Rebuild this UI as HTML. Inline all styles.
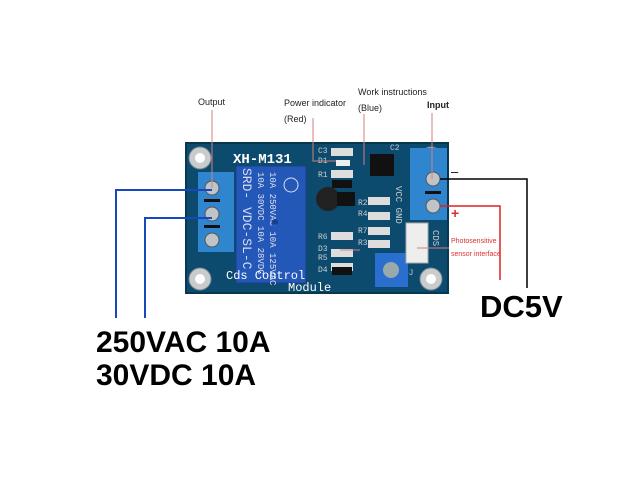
<!DOCTYPE html>
<html><head><style>
html,body{margin:0;padding:0;background:#fff;width:640px;height:480px;overflow:hidden}
svg{display:block}
</style></head><body>
<svg width="640" height="480" viewBox="0 0 640 480" font-family="Liberation Sans, sans-serif">
<rect width="640" height="480" fill="#fff"/>
<!-- board -->
<rect x="186" y="143" width="262" height="150" fill="#0c4a6e"/>
<rect x="186" y="143" width="262" height="150" fill="none" stroke="#083850" stroke-width="2"/>
<!-- holes -->
<g fill="#c9cccc" stroke="#7a8a90" stroke-width="1">
<circle cx="200" cy="158" r="11"/><circle cx="431" cy="158" r="11"/>
<circle cx="200" cy="279" r="11"/><circle cx="431" cy="279" r="11"/>
</g>
<g fill="#fff"><circle cx="200" cy="158" r="5"/><circle cx="431" cy="158" r="5"/><circle cx="200" cy="279" r="5"/><circle cx="431" cy="279" r="5"/></g>
<text x="233" y="163" fill="#fff" font-size="14" font-weight="bold" font-family="Liberation Mono, monospace">XH-M131</text>
<!-- left terminal -->
<rect x="198" y="172" width="36" height="80" fill="#2f86cf"/>
<g fill="#bfc4c8" stroke="#555"><circle cx="212" cy="188" r="7"/><circle cx="212" cy="214" r="7"/><circle cx="212" cy="240" r="7"/></g>
<rect x="204" y="199" width="16" height="3" fill="#111"/><rect x="204" y="225" width="16" height="3" fill="#111"/>
<!-- relay -->
<rect x="236" y="166" width="70" height="117" fill="#2458b8" stroke="#1a3f8a"/>
<text transform="translate(270,172) rotate(90)" fill="#dde" font-size="9" font-family="Liberation Mono, monospace">10A 250VAC 10A 125VAC</text>
<text transform="translate(258,172) rotate(90)" fill="#dde" font-size="9" font-family="Liberation Mono, monospace">10A 30VDC 10A 28VDC</text>
<text transform="translate(243,168) rotate(90)" fill="#dde" font-size="13" font-family="Liberation Mono, monospace">SRD- VDC-SL-C</text>
<circle cx="291" cy="185" r="7" fill="none" stroke="#dde"/>
<circle cx="275" cy="222" r="3" fill="#1a3f8a"/>
<text x="226" y="279" fill="#fff" font-size="12" font-family="Liberation Mono, monospace">Cds Control</text>
<text x="288" y="291" fill="#fff" font-size="12" font-family="Liberation Mono, monospace">Module</text>
<!-- capacitor -->
<circle cx="328" cy="199" r="12" fill="#222"/>
<rect x="337" y="192" width="18" height="14" fill="#111"/>
<!-- SMD components -->
<g fill="#ddd"><rect x="331" y="148" width="22" height="8"/><rect x="331" y="170" width="22" height="8"/><rect x="331" y="232" width="22" height="8"/><rect x="331" y="249" width="22" height="8"/><rect x="331" y="263" width="22" height="8"/><rect x="368" y="197" width="22" height="8"/><rect x="368" y="212" width="22" height="8"/><rect x="368" y="227" width="22" height="8"/><rect x="368" y="240" width="22" height="8"/></g>
<rect x="336" y="160" width="14" height="6" fill="#eee"/>
<rect x="332" y="180" width="20" height="8" fill="#111"/>
<rect x="332" y="267" width="20" height="8" fill="#111"/>
<rect x="370" y="154" width="24" height="22" fill="#111"/>
<g fill="#ccc" font-size="8" font-family="Liberation Mono, monospace"><text x="318" y="153">C3</text><text x="318" y="163">D1</text><text x="318" y="177">R1</text><text x="318" y="239">R6</text><text x="318" y="251">D3</text><text x="318" y="260">R5</text><text x="318" y="272">D4</text><text x="358" y="205">R2</text><text x="358" y="216">R4</text><text x="358" y="233">R7</text><text x="358" y="245">R3</text><text x="390" y="150">C2</text><text x="399" y="275">ADJ</text></g>
<text transform="translate(396,186) rotate(90)" fill="#ccc" font-size="9" font-family="Liberation Mono, monospace">VCC GND</text>
<!-- pot -->
<rect x="375" y="253" width="33" height="34" fill="#2a6fcf"/>
<circle cx="391" cy="270" r="8" fill="#9aa"/>
<!-- right terminal -->
<rect x="410" y="148" width="37" height="72" fill="#2f86cf"/>
<g fill="#bfc4c8" stroke="#555"><circle cx="433" cy="179" r="7"/><circle cx="433" cy="206" r="7"/></g>
<rect x="425" y="191" width="16" height="3" fill="#111"/>
<rect x="406" y="223" width="22" height="40" fill="#eee" stroke="#aaa"/>
<text transform="translate(433,230) rotate(90)" fill="#ccc" font-size="9" font-family="Liberation Mono, monospace">CDS</text>
<!-- labels -->
<g font-size="9" fill="#222">
<text x="198" y="105">Output</text>
<text x="284" y="106">Power indicator</text>
<text x="284" y="122">(Red)</text>
<text x="358" y="95">Work instructions</text>
<text x="358" y="111">(Blue)</text>
<text x="427" y="108" font-weight="bold">Input</text>
</g>
<g stroke="#d08080" stroke-width="1" fill="none">
<path d="M212 110 V188"/><path d="M313 118 V161 H336"/><path d="M364 114 V165"/><path d="M432 113 V179"/><path d="M417 248 H449"/><path d="M340 250 H360"/>
</g>
<text x="451" y="243" font-size="7" fill="#e03030">Photosensitive</text>
<text x="451" y="256" font-size="7" fill="#e03030">sensor interface</text>
<text x="451" y="176" font-size="13" fill="#000">–</text>
<text x="451" y="218" font-size="14" fill="#e03030" font-weight="bold">+</text>
<!-- wires -->
<path d="M212 190 H116 V318" stroke="#1848c0" stroke-width="2" fill="none"/>
<path d="M212 218 H145 V318" stroke="#1848c0" stroke-width="2" fill="none"/>
<path d="M440 179 H527 V288" stroke="#000" stroke-width="1.5" fill="none"/>
<path d="M440 206 H500 V280" stroke="#e02020" stroke-width="1.5" fill="none"/>
<text x="480" y="317" font-size="31" font-weight="bold" fill="#000">DC5V</text>
<text x="96" y="352" font-size="30" font-weight="bold" fill="#000">250VAC 10A</text>
<text x="96" y="385" font-size="30" font-weight="bold" fill="#000">30VDC 10A</text>
</svg>
</body></html>
